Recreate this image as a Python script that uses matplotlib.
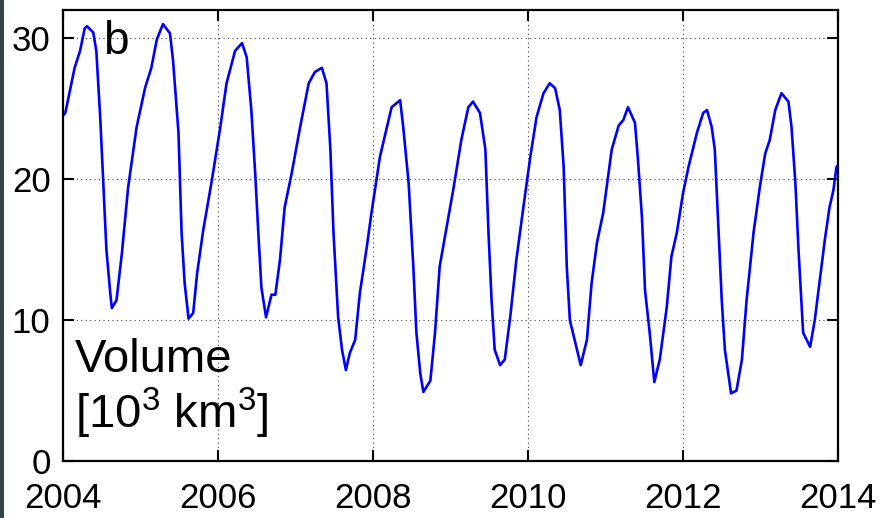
import numpy as np
import matplotlib
matplotlib.use("Agg")
import matplotlib.pyplot as plt
from matplotlib.patches import Rectangle

plt.rcParams['font.family'] = ['Liberation Sans', 'DejaVu Sans']
plt.rcParams['mathtext.fontset'] = 'custom'
plt.rcParams['mathtext.rm'] = 'Liberation Sans'
plt.rcParams['mathtext.default'] = 'regular'

# sea-ice volume (decimal year, 10^3 km^3)
years = [2004.00, 2004.03, 2004.09, 2004.15, 2004.22, 2004.28, 2004.31, 2004.39, 2004.43,
         2004.48, 2004.52, 2004.56, 2004.61, 2004.63, 2004.69, 2004.76, 2004.84, 2004.95,
         2005.06, 2005.14, 2005.21, 2005.29, 2005.38, 2005.42, 2005.49, 2005.53, 2005.57,
         2005.62, 2005.68, 2005.73, 2005.81, 2005.92, 2006.03, 2006.11, 2006.22, 2006.31,
         2006.37, 2006.43, 2006.48, 2006.52, 2006.56, 2006.62, 2006.69, 2006.74, 2006.80,
         2006.86, 2006.95, 2007.06, 2007.17, 2007.25, 2007.34, 2007.40, 2007.45, 2007.49,
         2007.55, 2007.60, 2007.65, 2007.70, 2007.77, 2007.83, 2007.92, 2007.98, 2008.09,
         2008.18, 2008.24, 2008.35, 2008.39, 2008.46, 2008.52, 2008.56, 2008.61, 2008.65,
         2008.74, 2008.80, 2008.86, 2008.95, 2009.04, 2009.14, 2009.23, 2009.29, 2009.38,
         2009.45, 2009.49, 2009.53, 2009.57, 2009.64, 2009.70, 2009.77, 2009.85, 2009.94,
         2010.03, 2010.11, 2010.20, 2010.28, 2010.35, 2010.41, 2010.46, 2010.50, 2010.54,
         2010.61, 2010.68, 2010.76, 2010.82, 2010.89, 2010.97, 2011.08, 2011.17, 2011.23,
         2011.29, 2011.38, 2011.42, 2011.47, 2011.51, 2011.57, 2011.63, 2011.70, 2011.79,
         2011.85, 2011.92, 2012.00, 2012.07, 2012.18, 2012.26, 2012.31, 2012.37, 2012.41,
         2012.46, 2012.50, 2012.54, 2012.62, 2012.69, 2012.76, 2012.82, 2012.91, 2012.99,
         2013.06, 2013.12, 2013.19, 2013.27, 2013.36, 2013.40, 2013.45, 2013.49, 2013.55,
         2013.64, 2013.70, 2013.77, 2013.83, 2013.89, 2013.94, 2013.98, 2014.00]
volume = [24.5, 24.7, 26.3, 27.9, 29.1, 30.7, 30.85, 30.4, 29.1,
          24.4, 19.7, 15.0, 11.9, 10.85, 11.4, 14.75, 19.4, 23.7,
          26.5, 27.9, 29.9, 31.0, 30.35, 28.4, 23.3, 16.2, 12.6,
          10.1, 10.5, 13.3, 16.4, 19.9, 23.7, 26.8, 29.1, 29.65,
          28.65, 24.9, 20.4, 16.2, 12.3, 10.2, 11.8, 11.8, 14.3,
          18.0, 20.4, 23.7, 26.8, 27.6, 27.9, 26.8, 22.1, 16.2,
          10.2, 7.9, 6.45, 7.65, 8.6, 11.9, 15.2, 17.6, 21.6,
          23.7, 25.1, 25.6, 23.7, 19.7, 13.8, 9.1, 6.2, 4.9,
          5.7, 9.1, 13.8, 16.6, 19.4, 22.8, 25.1, 25.5, 24.7,
          22.1, 16.2, 11.4, 7.9, 6.8, 7.2, 10.2, 14.3, 18.0,
          21.6, 24.4, 26.1, 26.8, 26.45, 24.9, 20.85, 13.8, 10.0,
          8.4, 6.8, 8.6, 12.6, 15.5, 17.6, 22.1, 23.8, 24.2,
          25.1, 24.0, 21.3, 17.3, 12.1, 9.1, 5.6, 7.2, 10.9,
          14.5, 16.2, 19.0, 20.85, 23.3, 24.7, 24.9, 23.7, 22.1,
          16.2, 11.4, 7.9, 4.8, 5.0, 7.2, 11.4, 16.2, 19.4,
          21.8, 22.8, 24.9, 26.1, 25.5, 23.7, 19.7, 15.0, 9.1,
          8.1, 10.0, 13.05, 15.7, 18.0, 19.2, 20.85, 21.0]

xticks = [2004, 2006, 2008, 2010, 2012, 2014]
yticks = [0, 10, 20, 30]

fig = plt.figure(figsize=(8.8, 5.18), dpi=100)
ax = fig.add_axes([0.0716, 0.110, 0.8807, 0.8707])

# dark strip on the left border of the picture
fig.patches.append(Rectangle((0, 0), 4 / 880, 1, transform=fig.transFigure,
                             facecolor='#33444a', edgecolor='none'))

ax.plot(years, volume, color=(0, 0, 1), lw=1.9)

ax.set_xlim(2004, 2014)
ax.set_ylim(0, 32)
ax.set_xticks(xticks)
ax.set_yticks(yticks)
ax.grid(True, linestyle=(0, (1, 3)), color='#444444', lw=0.8)

ax.tick_params(direction='in', length=8, width=1.5, top=True, right=True,
               labelsize=25)
ax.tick_params(axis='x', pad=15)
ax.tick_params(axis='y', pad=9)
for s in ax.spines.values():
    s.set_linewidth(1.6)

ax.text(0.052, 0.902, 'b', transform=ax.transAxes, fontsize=33, va='baseline')
ax.text(0.0155, 0.197, 'Volume', transform=ax.transAxes, fontsize=34, va='baseline')
ax.text(0.0155, 0.073, '[10$^{3}$ km$^{3}$]', transform=ax.transAxes, fontsize=34,
        va='baseline')

fig.savefig('out.png', dpi=100)
